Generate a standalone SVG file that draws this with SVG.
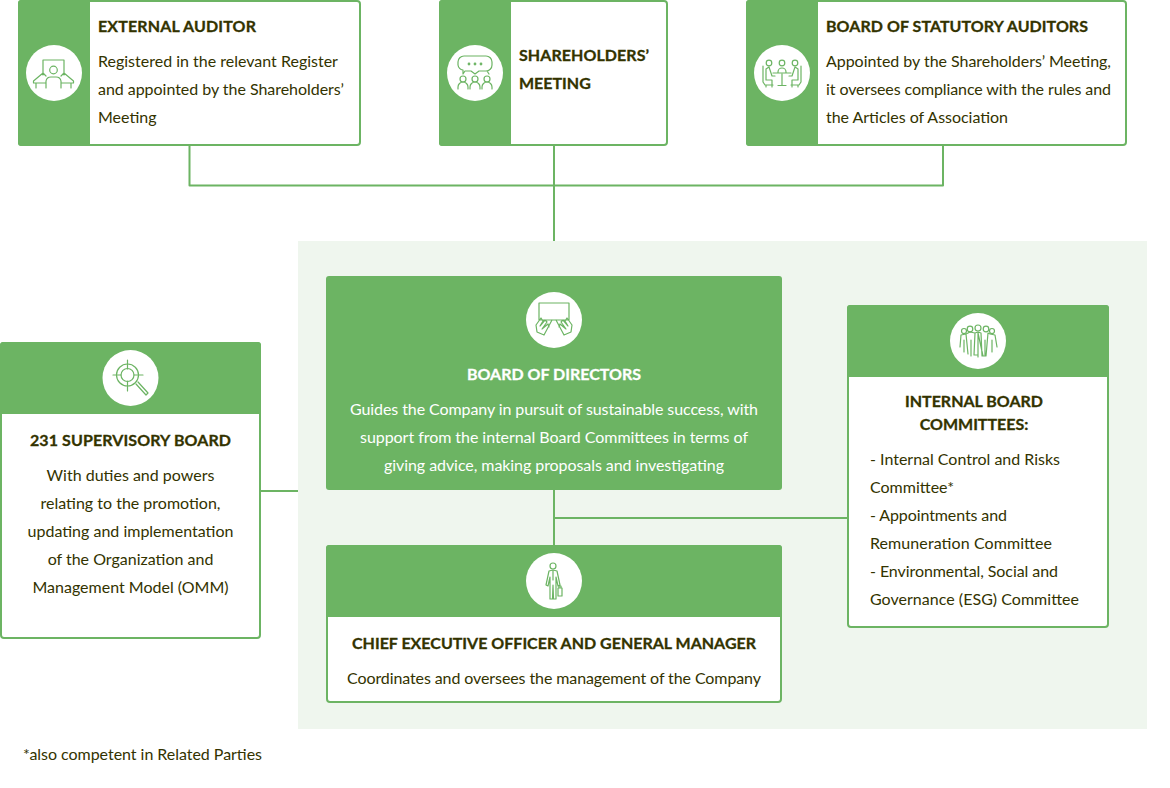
<svg xmlns="http://www.w3.org/2000/svg" width="1170" height="788" viewBox="0 0 1170 788">
<style>
text{font-family:Lato,"Liberation Sans",sans-serif;fill:#333300;font-size:16px;font-kerning:normal}
.t{font-weight:700;font-size:16px;stroke:#333300;stroke-width:.3}
.tw{stroke:#fff}
.m{text-anchor:middle}
.box{fill:#fff;stroke:#6cb463;stroke-width:2}
.g{fill:#6cb463}
.c{fill:#fff}
.i{fill:none;stroke:#6cb463;stroke-width:1.2;stroke-linecap:round;stroke-linejoin:round}
.conn{fill:none;stroke:#6cb463;stroke-width:2;stroke-linejoin:round}
</style>
<g id="connectors">
<path class="conn" d="M189.500 146V185.500H943V146M554 146V241M261 491H298"/>
</g>
<rect x="298" y="241" width="849" height="488" fill="#eff6ee"/>
<g id="connectors-inner">
<path class="conn" d="M554 490V545M554 518H847"/>
</g>
<g id="external-auditor">
<rect class="box" x="19" y="1" width="341" height="144" rx="3"/>
<path class="g" d="M21 0H90V146H21a3 3 0 0 1-3-3V3a3 3 0 0 1 3-3z"/>
<circle class="c" cx="54" cy="73" r="28"/>
<path class="i" d="M43 75V60H64V75M46 76l-3-3L33.500 81V83H46M61 76l3-3 9.500 8V83H61M46 88V81a5 5 0 0 1 5-4h5a5 5 0 0 1 5 4V88M36 83V88M71 83V88"/>
<circle class="i" cx="53.500" cy="70" r="3.800"/>
<text class="t" x="98" y="32" textLength="158">EXTERNAL AUDITOR</text>
<text x="98" y="67">Registered in the relevant Register</text>
<text x="98" y="95" textLength="246">and appointed by the Shareholders’</text>
<text x="98" y="123">Meeting</text>
</g>
<g id="shareholders-meeting">
<rect class="box" x="440" y="1" width="227" height="144" rx="3"/>
<path class="g" d="M442 0H511V146H442a3 3 0 0 1-3-3V3a3 3 0 0 1 3-3z"/>
<circle class="c" cx="475" cy="73" r="28"/>
<path class="i" d="M464 56H486a6 6 0 0 1 6 6V65a6 6 0 0 1-6 6H479L475 74 471 71H465L463 74V70a6 6 0 0 1-5-5V62a6 6 0 0 1 6-6zM487 71 489 74"/>
<circle class="i" cx="469" cy="64" r=".8"/><circle class="i" cx="475" cy="64" r=".8"/><circle class="i" cx="481" cy="64" r=".8"/>
<circle class="i" cx="463" cy="79" r="3"/><circle class="i" cx="475" cy="79" r="3"/><circle class="i" cx="487" cy="79" r="3"/>
<path class="i" d="M458 89V87a5 5 0 0 1 10 0V89M470 89V87a5 5 0 0 1 10 0V89M482 89V87a5 5 0 0 1 10 0V89"/>
<text class="t" x="519" y="61" textLength="130">SHAREHOLDERS’</text>
<text class="t" x="519" y="89">MEETING</text>
</g>
<g id="board-of-statutory-auditors">
<rect class="box" x="747" y="1" width="379" height="144" rx="3"/>
<path class="g" d="M749 0H818V146H749a3 3 0 0 1-3-3V3a3 3 0 0 1 3-3z"/>
<circle class="c" cx="782" cy="73" r="28"/>
<circle class="i" cx="769" cy="63" r="2.800"/><circle class="i" cx="782" cy="63" r="2.800"/><circle class="i" cx="795" cy="63" r="2.800"/>
<path class="i" d="M763 66V82L765 85H773M766 69 769 67 772 76H775M766 69V80H772V85M801 66V82L799 85H791M798 69 795 67 792 76H789M798 69V80H792V85M778 72a4 4 0 0 1 8 0V73H778zM773 73H791M782 74V85M778 85.500H786M766 85V87M772 85V87M792 85V87M798 85V87"/>
<text class="t" x="826" y="32" textLength="262">BOARD OF STATUTORY AUDITORS</text>
<text x="826" y="67" textLength="285">Appointed by the Shareholders’ Meeting,</text>
<text x="826" y="95" textLength="285">it oversees compliance with the rules and</text>
<text x="826" y="123" textLength="182">the Articles of Association</text>
</g>
<g id="board-of-directors">
<rect class="g" x="326" y="276" width="456" height="214" rx="3"/>
<circle class="c" cx="554" cy="320" r="28"/>
<path class="i" d="M539 303H569V320H539zM552 320 544 335M556 320 564 335M544 335 537 332 536 325 541 318 543 321 540 326 545 320 547 322 542 329 548 324 549 327M564 335 571 332 572 325 567 318 565 321 568 326 563 320 561 322 566 329 560 324 559 327"/>
<text class="t tw m" style="fill:#fff" x="554" y="380">BOARD OF DIRECTORS</text>
<text class="m" style="fill:#fff" x="554" y="415" textLength="408">Guides the Company in pursuit of sustainable success, with</text>
<text class="m" style="fill:#fff" x="554" y="443" textLength="388">support from the internal Board Committees in terms of</text>
<text class="m" style="fill:#fff" x="554" y="471" textLength="340">giving advice, making proposals and investigating</text>
</g>
<g id="supervisory-board">
<rect class="box" x="1" y="343" width="259" height="295" rx="3"/>
<path class="g" d="M3 342H258a3 3 0 0 1 3 3V414H0V345a3 3 0 0 1 3-3z"/>
<circle class="c" cx="130.500" cy="378" r="28"/>
<circle class="i" cx="127.500" cy="375" r="11"/><circle class="i" cx="127.500" cy="375" r="6.500"/>
<path class="i" d="M127.500 360V369M127.500 381V391M113 375H121M134 375H143M136 384 146 395 148 393 138 382"/>
<text class="t m" x="130.500" y="446" textLength="201">231 SUPERVISORY BOARD</text>
<text class="m" x="130.500" y="481">With duties and powers</text>
<text class="m" x="130.500" y="509">relating to the promotion,</text>
<text class="m" x="130.500" y="537">updating and implementation</text>
<text class="m" x="130.500" y="565">of the Organization and</text>
<text class="m" x="130.500" y="593">Management Model (OMM)</text>
</g>
<g id="ceo-general-manager">
<rect class="box" x="327" y="546" width="454" height="156" rx="3"/>
<path class="g" d="M329 545H779a3 3 0 0 1 3 3V617H326V548a3 3 0 0 1 3-3z"/>
<circle class="c" cx="554" cy="581" r="28"/>
<circle class="i" cx="553" cy="566" r="3"/>
<path class="i" d="M549 571 553 570 557 571 560 585 558 586 556 577 556 599H553.500L553 585 552.500 599H550L550 577 548 586 546 585zM553 571V580M558 588H562V596H558zM559 588V586H561V588"/>
<text class="t m" x="554" y="649" textLength="404">CHIEF EXECUTIVE OFFICER AND GENERAL MANAGER</text>
<text class="m" x="554" y="684" textLength="414">Coordinates and oversees the management of the Company</text>
</g>
<g id="internal-board-committees">
<rect class="box" x="848" y="306" width="260" height="321" rx="3"/>
<path class="g" d="M850 305H1106a3 3 0 0 1 3 3V377H847V308a3 3 0 0 1 3-3z"/>
<circle class="c" cx="978" cy="341" r="28"/>
<circle class="i" cx="964" cy="331" r="2.500"/><circle class="i" cx="970" cy="329" r="2.800"/><circle class="i" cx="978" cy="328" r="3"/><circle class="i" cx="986" cy="329" r="2.800"/><circle class="i" cx="992" cy="331" r="2.500"/>
<path class="i" d="M960 347 961 335 966 334 968 354M966 334 970 332 975 333 974 355H978V333L983 356H986L988 333 990 334 995 335 997 347M971 340V356M978 340V357M985 340V355M964 340V352M992 340V352M975 333 978 332 981 333M981 333 982 356"/>
<text class="t m" x="974" y="407">INTERNAL BOARD</text>
<text class="t m" x="974" y="430">COMMITTEES:</text>
<text x="870" y="465" textLength="190">- Internal Control and Risks</text>
<text x="870" y="493" textLength="84">Committee*</text>
<text x="870" y="521" textLength="137">- Appointments and</text>
<text x="870" y="549" textLength="182">Remuneration Committee</text>
<text x="870" y="577" textLength="188">- Environmental, Social and</text>
<text x="870" y="605" textLength="209">Governance (ESG) Committee</text>
</g>
<text x="23" y="760" textLength="239">*also competent in Related Parties</text>
</svg>
